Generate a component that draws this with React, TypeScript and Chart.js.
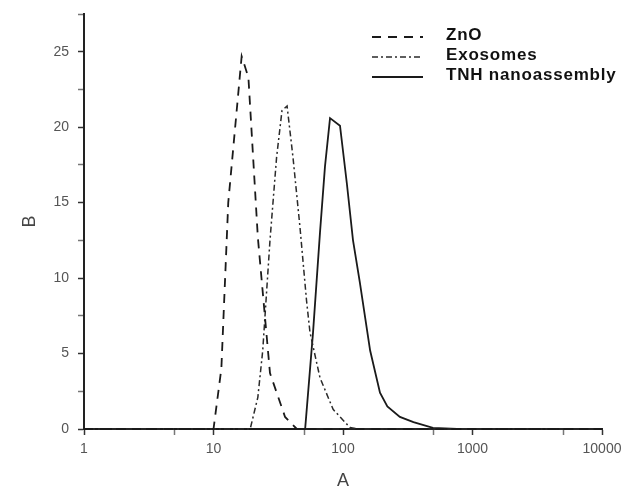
import React, { useEffect, useRef } from "react";
import { Chart, registerables } from "chart.js";

Chart.register(...registerables);

// ---- data ----
const seriesLabels = ["ZnO", "Exosomes", "TNH nanoassembly"];

const znoX = [1, 10, 11.5, 13, 16.5, 18.6, 22, 27.3, 35.7, 44, 10000];
const znoY = [0, 0, 4, 15, 24.7, 23.3, 12.7, 3.7, 0.8, 0, 0];

const exoX = [1, 19.2, 22, 24, 27.3, 30.7, 33.8, 37, 41.1, 46.5, 52.3, 55.6, 66.4, 83.9, 113, 134, 10000];
const exoY = [0, 0, 2.1, 5.2, 12.5, 18.0, 21.1, 21.4, 18.0, 13.4, 8.5, 6.4, 3.4, 1.3, 0.1, 0, 0];

const tnhX = [1, 51, 58.7, 66.4, 72.6, 79.4, 94.8, 107, 119.5, 135, 162, 193, 220, 275, 350, 495, 760, 10000];
const tnhY = [0, 0, 6.4, 13, 17.4, 20.6, 20.1, 16.3, 12.5, 9.7, 5.2, 2.4, 1.5, 0.8, 0.45, 0.07, 0, 0];

const xTickValues = [1, 5, 10, 50, 100, 500, 1000, 5000, 10000];
const xTickLabels = ["1", "", "10", "", "100", "", "1000", "", "10000"];

const yTickValues = [0, 2.5, 5, 7.5, 10, 12.5, 15, 17.5, 20, 22.5, 25, 27.5];
const yTickLabels = ["0", "", "5", "", "10", "", "15", "", "20", "", "25", ""];

const xTitle = "A";
const yTitle = "B";

const toPoints = (xs: number[], ys: number[]) => xs.map((x, i) => ({ x, y: ys[i] }));

const FONT = "'Liberation Sans', Arial, sans-serif";

const cornerLegend = {
  id: "cornerLegend",
  afterDraw(chart: any) {
    const ctx = chart.ctx as CanvasRenderingContext2D;
    const lineX0 = 372;
    const lineX1 = 423;
    const textX = 446;
    const textYs = [35, 55, 75];
    ctx.save();
    chart.data.datasets.forEach((ds: any, i: number) => {
      const ty = textYs[i];
      const ly = ty + 2;
      ctx.beginPath();
      ctx.setLineDash(ds.borderDash || []);
      ctx.lineWidth = ds.borderWidth;
      ctx.strokeStyle = ds.borderColor;
      ctx.moveTo(lineX0, ly);
      ctx.lineTo(lineX1, ly);
      ctx.stroke();
      ctx.setLineDash([]);
      ctx.fillStyle = "#111";
      ctx.font = `bold 17px ${FONT}`;
      (ctx as any).letterSpacing = "0.8px";
      ctx.textAlign = "left";
      ctx.textBaseline = "middle";
      ctx.fillText(ds.label, textX, ty);
    });
    ctx.restore();
  },
};

export default function App() {
  const canvasRef = useRef<HTMLCanvasElement | null>(null);

  useEffect(() => {
    document.body.style.margin = "0";
    const canvas = canvasRef.current;
    if (!canvas) return;
    const common = {
      pointRadius: 0,
      fill: false,
      clip: 4,
      tension: 0,
    };
    const chart = new Chart(canvas, {
      type: "line",
      data: {
        datasets: [
          {
            ...common,
            label: seriesLabels[0],
            data: toPoints(znoX, znoY),
            borderColor: "#1a1a1a",
            borderWidth: 1.8,
            borderDash: [9, 7],
          },
          {
            ...common,
            label: seriesLabels[1],
            data: toPoints(exoX, exoY),
            borderColor: "#2a2a2a",
            borderWidth: 1.5,
            borderDash: [6, 3, 2, 3],
          },
          {
            ...common,
            label: seriesLabels[2],
            data: toPoints(tnhX, tnhY),
            borderColor: "#1a1a1a",
            borderWidth: 1.8,
          },
        ],
      },
      options: {
        responsive: false,
        animation: false,
        events: [],
        layout: { padding: { left: 15, top: 14, right: 26, bottom: 0 } },
        plugins: {
          legend: { display: false },
          tooltip: { enabled: false },
        },
        scales: {
          x: {
            type: "logarithmic",
            min: 1,
            max: 10000,
            afterBuildTicks: (s: any) => {
              s.ticks = xTickValues.map((v) => ({ value: v }));
            },
            afterFit: (s: any) => {
              s.height = 69;
              s.paddingLeft = 0;
              s.paddingRight = 0;
            },
            ticks: {
              autoSkip: false,
              maxRotation: 0,
              padding: 6,
              color: "#555",
              font: { family: FONT, size: 14 },
              callback: (_v: any, i: number) => xTickLabels[i],
            },
            grid: {
              drawOnChartArea: false,
              tickLength: 6,
              tickWidth: 1.5,
              tickColor: (c: any) => (xTickLabels[c.index] ? "#333" : "#777"),
            },
            border: { color: "#222", width: 2 },
            title: {
              display: true,
              text: xTitle,
              color: "#444",
              font: { family: FONT, size: 18 },
              padding: { top: 0, bottom: 6 },
            },
          },
          y: {
            type: "linear",
            min: 0,
            max: 27.5,
            afterBuildTicks: (s: any) => {
              s.ticks = yTickValues.map((v) => ({ value: v }));
            },
            afterFit: (s: any) => {
              s.width = 69;
              s.paddingTop = 0;
              s.paddingBottom = 0;
            },
            ticks: {
              autoSkip: false,
              padding: 9,
              color: "#555",
              font: { family: FONT, size: 14 },
              callback: (_v: any, i: number) => yTickLabels[i],
            },
            grid: {
              drawOnChartArea: false,
              tickLength: 6,
              tickWidth: 1.5,
              tickColor: (c: any) => (yTickLabels[c.index] ? "#333" : "#777"),
            },
            border: { color: "#222", width: 2 },
            title: {
              display: true,
              text: yTitle,
              color: "#444",
              font: { family: FONT, size: 18 },
              padding: { top: 4, bottom: 0 },
            },
          },
        },
      },
      plugins: [cornerLegend],
    } as any);
    return () => chart.destroy();
  }, []);

  return (
    <div style={{ position: "absolute", left: 0, top: 0, width: 628, height: 498, background: "#fff" }}>
      <canvas ref={canvasRef} width={628} height={498} style={{ width: 628, height: 498, display: "block" }} />
    </div>
  );
}
